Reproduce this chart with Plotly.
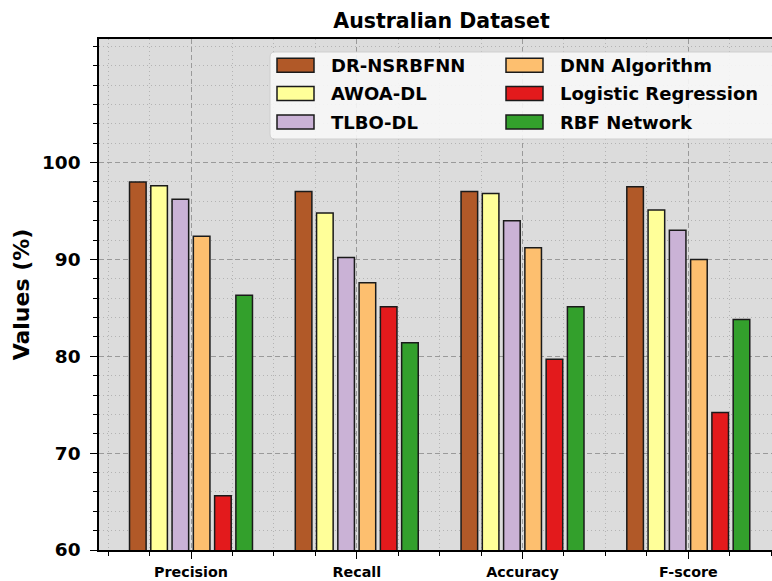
import plotly.graph_objects as go

# ---- data -------------------------------------------------------------
categories = ["Precision", "Recall", "Accuracy", "F-score"]
methods = ["DR-NSRBFNN", "AWOA-DL", "TLBO-DL", "DNN Algorithm",
           "Logistic Regression", "RBF Network"]
dr_nsrbfnn = [98.0, 97.0, 97.0, 97.5]
awoa_dl = [97.6, 94.8, 96.8, 95.1]
tlbo_dl = [96.2, 90.2, 94.0, 93.0]
dnn_algorithm = [92.4, 87.6, 91.2, 90.0]
logistic_regression = [65.6, 85.1, 79.7, 74.2]
rbf_network = [86.3, 81.4, 85.1, 83.8]
y_ticks = [60, 70, 80, 90, 100]

series = [dr_nsrbfnn, awoa_dl, tlbo_dl, dnn_algorithm,
          logistic_regression, rbf_network]
colors = ["#b15928", "#ffff99", "#cab2d6", "#fdbf6f", "#e31a1c", "#33a02c"]

# ---- geometry ---------------------------------------------------------
W, H = 772, 581
L, T, B, R = 99, 39, 31, 0
PW, PH = W - L - R, H - T - B
FONT = "DejaVu Sans"


def fx(px):
    return (px - L) / PW


def fy(py):
    return (H - B - py) / PH


xpos = list(range(len(categories)))

fig = go.Figure()
for name, vals, col in zip(methods, series, colors):
    fig.add_trace(go.Bar(
        x=xpos, y=vals, name=name, showlegend=False,
        marker=dict(color=col, line=dict(color="#1a1a1a", width=1.5)),
    ))

# ---- hand-built legend box (two columns) ------------------------------
x0, x1, y0, y1 = 270, 800, 52, 139
r = 5
rx, ry = r / PW, r / PH
path = (f"M {fx(x1)},{fy(y0)} L {fx(x0) + rx},{fy(y0)} "
        f"Q {fx(x0)},{fy(y0)} {fx(x0)},{fy(y0) - ry} "
        f"L {fx(x0)},{fy(y1) + ry} Q {fx(x0)},{fy(y1)} {fx(x0) + rx},{fy(y1)} "
        f"L {fx(x1)},{fy(y1)} Z")
shapes = [dict(type="path", xref="paper", yref="paper", path=path,
               fillcolor="rgba(247,247,247,0.9)",
               line=dict(color="#cfcfcf", width=1), layer="above")]
annotations = []
col_patch_x = [277, 506]
col_text_x = [329, 558]
row_y = [65.3, 93.5, 122.0]
for i, (name, col) in enumerate(zip(methods, colors)):
    c, rw = divmod(i, 3)
    cy = row_y[rw]
    px0 = col_patch_x[c]
    shapes.append(dict(type="rect", xref="paper", yref="paper",
                       x0=fx(px0), x1=fx(px0 + 37), y0=fy(cy - 7), y1=fy(cy + 7),
                       fillcolor=col, line=dict(color="#1a1a1a", width=1.5),
                       layer="above"))
    annotations.append(dict(xref="paper", yref="paper", x=fx(col_text_x[c]),
                            y=fy(cy), xanchor="left", yanchor="middle",
                            text=name, showarrow=False,
                            font=dict(family=FONT, size=18, weight="bold",
                                      color="black")))

fig.update_layout(
    width=W, height=H,
    margin=dict(l=L, r=R, t=T, b=B, pad=0),
    paper_bgcolor="white", plot_bgcolor="#dcdcdc",
    barmode="group", bargap=0.23, bargroupgap=0.22,
    title=dict(text="Australian Dataset", x=fx(441.5), xref="paper",
               xanchor="center", y=1 - 21 / H, yanchor="middle",
               font=dict(family=FONT, size=20.5, weight="bold", color="black")),
    shapes=shapes, annotations=annotations,
    font=dict(family=FONT, color="black"),
)

fig.update_xaxes(
    range=[-0.555, 3.505], tickvals=xpos, ticktext=categories,
    tickfont=dict(family=FONT, size=14.3, weight="bold"),
    showline=True, linecolor="black", linewidth=1.5, mirror=True,
    ticks="outside", ticklen=7, tickwidth=1.2, tickcolor="black",
    ticklabelstandoff=1,
    showgrid=True, gridcolor="#9a9a9a", gridwidth=1, griddash="5px,3px",
    zeroline=False,
    minor=dict(dtick=0.25, tick0=0, ticks="outside", ticklen=4,
               tickcolor="black", showgrid=True, gridcolor="#b3b3b3",
               gridwidth=1, griddash="1px,3px"),
)
fig.update_yaxes(
    range=[60, 112.75], tickvals=y_ticks,
    tickfont=dict(family=FONT, size=18.5, weight="bold"),
    showline=True, linecolor="black", linewidth=1.5, mirror=False,
    ticks="outside", ticklen=7, tickwidth=1.2, tickcolor="black",
    ticklabelstandoff=6,
    showgrid=True, gridcolor="#9a9a9a", gridwidth=1, griddash="5px,3px",
    zeroline=False,
    title=dict(text="Values (%)", standoff=6,
               font=dict(family=FONT, size=22, weight="bold")),
    minor=dict(dtick=2, tick0=60, ticks="outside", ticklen=4,
               tickcolor="black", showgrid=True, gridcolor="#b3b3b3",
               gridwidth=1, griddash="1px,3px"),
)

fig.write_html("out.html")
